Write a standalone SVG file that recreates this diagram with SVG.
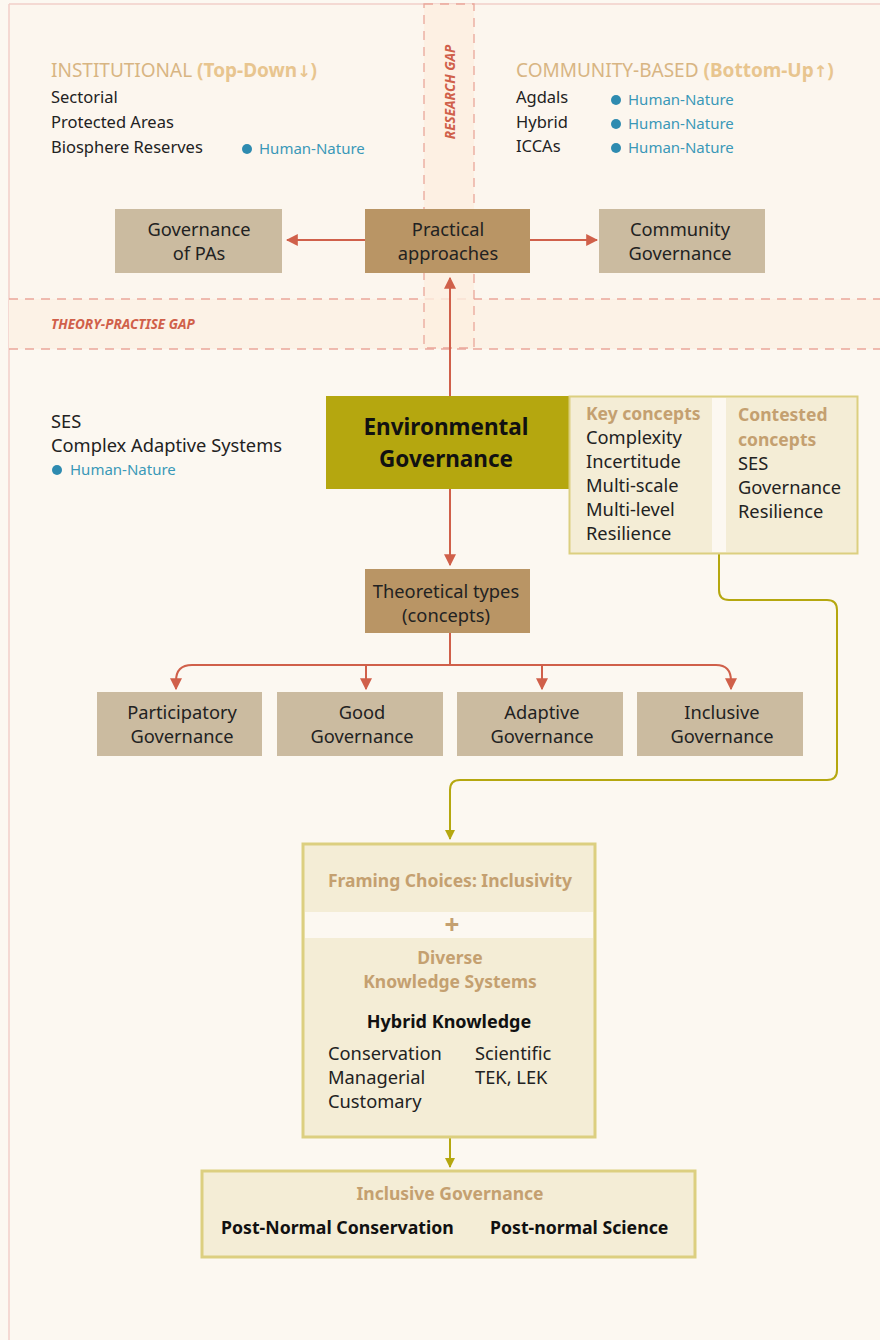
<svg xmlns="http://www.w3.org/2000/svg" width="880" height="1340" viewBox="0 0 880 1340">
  <style>
    text { font-family: "Noto Sans", "Open Sans", "Liberation Sans", sans-serif; }
    .body { font-size: 16.5px; fill: #222; }
    .list { font-size: 18.3px; fill: #222; }
    .head { font-size: 19px; fill: #d8b583; }
    .headb { font-size: 19px; font-weight: bold; fill: #e8c58f; }
    .arrowglyph { font-family: "DejaVu Sans", sans-serif; font-size: 16px; }
    .hn { font-size: 15px; fill: #3a98b8; }
    .dot { fill: #2e8bb0; }
    .gap { font-size: 13.5px; font-weight: bold; font-style: italic; fill: #d0604a; }
    .box-light { fill: #cbbba0; }
    .box-dark { fill: #b99565; }
    .boxtxt { font-size: 18.3px; fill: #222; text-anchor: middle; }
    .panel { fill: #f4edd6; stroke: #dccf80; }
    .tan { font-size: 17.5px; font-weight: bold; fill: #c4a070; }
    .bold { font-size: 17.7px; font-weight: bold; fill: #111; }
    .red { stroke: #d0604a; stroke-width: 2; fill: none; }
    .olive { stroke: #b5a70f; stroke-width: 2; fill: none; }
    .dash { stroke: #eaa79a; stroke-width: 1.3; stroke-dasharray: 9 7; fill: none; }
  </style>
  <defs>
    <marker id="ar" viewBox="0 0 10 10" refX="9" refY="5" markerWidth="6" markerHeight="6" orient="auto">
      <path d="M0,0 L10,5 L0,10 z" fill="#d0604a"/>
    </marker>
    <marker id="ao" viewBox="0 0 10 10" refX="9" refY="5" markerWidth="5" markerHeight="5" orient="auto">
      <path d="M0,0 L10,5 L0,10 z" fill="#b5a70f"/>
    </marker>
  </defs>

  <!-- page -->
  <rect x="0" y="0" width="880" height="1340" fill="#fcf8f1"/>
  <rect x="9" y="4" width="871" height="295" fill="#fcf6ee"/>
  <line x1="9" y1="4" x2="880" y2="4" stroke="#f2cfc8" stroke-width="1.5"/>
  <line x1="9" y1="4" x2="9" y2="1340" stroke="#f2cfc8" stroke-width="1.5"/>

  <!-- gap bands -->
  <g id="theory-practise-gap">
    <rect x="9" y="299" width="871" height="50" fill="#fcf2e6"/>
    <line class="dash" x1="9" y1="299" x2="880" y2="299"/>
    <line class="dash" x1="9" y1="349" x2="880" y2="349"/>
    <text class="gap" x="51" y="329">THEORY-PRACTISE GAP</text>
  </g>
  <g id="research-gap">
    <rect x="424" y="4" width="50" height="344" fill="#fcefe0" fill-opacity="0.8"/>
    <rect class="dash" x="424" y="4" width="50" height="344"/>
    <text class="gap" transform="translate(455,92) rotate(-90)" text-anchor="middle">RESEARCH GAP</text>
  </g>

  <!-- institutional list -->
  <g id="institutional">
    <text x="51" y="77"><tspan class="head">INSTITUTIONAL </tspan><tspan class="headb">(Top-Down<tspan class="arrowglyph">↓</tspan>)</tspan></text>
    <text class="body" x="51" y="103">Sectorial</text>
    <text class="body" x="51" y="128">Protected Areas</text>
    <text class="body" x="51" y="153">Biosphere Reserves</text>
    <circle class="dot" cx="247" cy="149" r="5"/>
    <text class="hn" x="259" y="154">Human-Nature</text>
  </g>

  <!-- community-based list -->
  <g id="community-based">
    <text x="516" y="77"><tspan class="head">COMMUNITY-BASED </tspan><tspan class="headb">(Bottom-Up<tspan class="arrowglyph">↑</tspan>)</tspan></text>
    <text class="body" x="516" y="103">Agdals</text>
    <text class="body" x="516" y="128">Hybrid</text>
    <text class="body" x="516" y="152">ICCAs</text>
    <circle class="dot" cx="616" cy="100" r="5"/>
    <circle class="dot" cx="616" cy="124" r="5"/>
    <circle class="dot" cx="616" cy="148" r="5"/>
    <text class="hn" x="628" y="105">Human-Nature</text>
    <text class="hn" x="628" y="129">Human-Nature</text>
    <text class="hn" x="628" y="153">Human-Nature</text>
  </g>

  <!-- SES list -->
  <g id="ses">
    <text class="list" x="51" y="428">SES</text>
    <text class="list" x="51" y="452">Complex Adaptive Systems</text>
    <circle class="dot" cx="57" cy="470" r="5"/>
    <text class="hn" x="70" y="475">Human-Nature</text>
  </g>

  <!-- connectors -->
  <g id="connectors">
    <line class="red" x1="365" y1="240" x2="287" y2="240" marker-end="url(#ar)"/>
    <line class="red" x1="530" y1="240" x2="597" y2="240" marker-end="url(#ar)"/>
    <line class="red" x1="450" y1="396" x2="450" y2="278" marker-end="url(#ar)"/>
    <line class="red" x1="450" y1="489" x2="450" y2="565" marker-end="url(#ar)"/>
    <path class="red" d="M450,633 V665 M192,665 H716"/>
    <path class="red" d="M192,665 Q176,665 176,681 V689" marker-end="url(#ar)"/>
    <path class="red" d="M716,665 Q731,665 731,681 V689" marker-end="url(#ar)"/>
    <line class="red" x1="366" y1="665" x2="366" y2="689" marker-end="url(#ar)"/>
    <line class="red" x1="542" y1="665" x2="542" y2="689" marker-end="url(#ar)"/>
    <path class="olive" d="M719,553 V590 Q719,600 729,600 H827 Q837,600 837,610 V770 Q837,780 827,780 H460 Q450,780 450,790 V839" marker-end="url(#ao)"/>
    <line class="olive" x1="450" y1="1138" x2="450" y2="1167" marker-end="url(#ao)"/>
  </g>

  <!-- practical row -->
  <g id="governance-pas">
    <rect class="box-light" x="115" y="209" width="167" height="64"/>
    <text class="boxtxt" x="199" y="236">Governance</text>
    <text class="boxtxt" x="199" y="260">of PAs</text>
  </g>
  <g id="practical-approaches">
    <rect class="box-dark" x="365" y="209" width="165" height="64"/>
    <text class="boxtxt" x="448" y="236">Practical</text>
    <text class="boxtxt" x="448" y="260">approaches</text>
  </g>
  <g id="community-governance">
    <rect class="box-light" x="599" y="209" width="166" height="64"/>
    <text class="boxtxt" x="680" y="236">Community</text>
    <text class="boxtxt" x="680" y="260">Governance</text>
  </g>

  <!-- environmental governance -->
  <g id="environmental-governance">
    <rect x="326" y="396" width="243" height="93" fill="#b5a70f"/>
    <text x="446" y="435" text-anchor="middle" font-size="22.5" font-weight="bold" fill="#111">Environmental</text>
    <text x="446" y="467" text-anchor="middle" font-size="22.5" font-weight="bold" fill="#111">Governance</text>
  </g>

  <!-- concepts panel -->
  <g id="concepts">
    <rect class="panel" x="569.5" y="396.5" width="288" height="157" stroke-width="2"/>
    <rect x="712" y="398" width="14" height="154" fill="#fcf8f1"/>
    <text class="tan" x="586" y="420">Key concepts</text>
    <text class="list" x="586" y="444">Complexity</text>
    <text class="list" x="586" y="468">Incertitude</text>
    <text class="list" x="586" y="492">Multi-scale</text>
    <text class="list" x="586" y="516">Multi-level</text>
    <text class="list" x="586" y="540">Resilience</text>
    <text class="tan" x="738" y="421">Contested</text>
    <text class="tan" x="738" y="446">concepts</text>
    <text class="list" x="738" y="470">SES</text>
    <text class="list" x="738" y="494">Governance</text>
    <text class="list" x="738" y="518">Resilience</text>
  </g>

  <!-- theoretical types -->
  <g id="theoretical-types">
    <rect class="box-dark" x="365" y="569" width="165" height="64"/>
    <text class="boxtxt" x="446" y="598">Theoretical types</text>
    <text class="boxtxt" x="446" y="622">(concepts)</text>
  </g>

  <g id="participatory-governance">
    <rect class="box-light" x="97" y="692" width="165" height="64"/>
    <text class="boxtxt" x="182" y="719">Participatory</text>
    <text class="boxtxt" x="182" y="743">Governance</text>
  </g>
  <g id="good-governance">
    <rect class="box-light" x="277" y="692" width="166" height="64"/>
    <text class="boxtxt" x="362" y="719">Good</text>
    <text class="boxtxt" x="362" y="743">Governance</text>
  </g>
  <g id="adaptive-governance">
    <rect class="box-light" x="457" y="692" width="166" height="64"/>
    <text class="boxtxt" x="542" y="719">Adaptive</text>
    <text class="boxtxt" x="542" y="743">Governance</text>
  </g>
  <g id="inclusive-governance-type">
    <rect class="box-light" x="637" y="692" width="166" height="64"/>
    <text class="boxtxt" x="722" y="719">Inclusive</text>
    <text class="boxtxt" x="722" y="743">Governance</text>
  </g>

  <!-- framing choices / knowledge systems -->
  <g id="framing-knowledge">
    <rect class="panel" x="303" y="844" width="292" height="293" stroke-width="3"/>
    <rect x="305" y="912" width="288" height="26" fill="#fcf8f1"/>
    <text class="tan" x="450" y="887" text-anchor="middle">Framing Choices: Inclusivity</text>
    <text x="452" y="934" text-anchor="middle" font-size="26" font-weight="bold" fill="#c4a070">+</text>
    <text class="tan" x="450" y="964" text-anchor="middle">Diverse</text>
    <text class="tan" x="450" y="988" text-anchor="middle">Knowledge Systems</text>
    <text class="bold" x="449" y="1028" text-anchor="middle" style="font-size:18px">Hybrid Knowledge</text>
    <text class="list" x="328" y="1060">Conservation</text>
    <text class="list" x="328" y="1084">Managerial</text>
    <text class="list" x="328" y="1108">Customary</text>
    <text class="list" x="475" y="1060">Scientific</text>
    <text class="list" x="475" y="1084">TEK, LEK</text>
  </g>

  <!-- inclusive governance outcome -->
  <g id="inclusive-governance">
    <rect class="panel" x="202" y="1171" width="493" height="86" stroke-width="3"/>
    <text class="tan" x="450" y="1200" text-anchor="middle">Inclusive Governance</text>
    <text class="bold" x="221" y="1234">Post-Normal Conservation</text>
    <text class="bold" x="490" y="1234">Post-normal Science</text>
  </g>
</svg>
